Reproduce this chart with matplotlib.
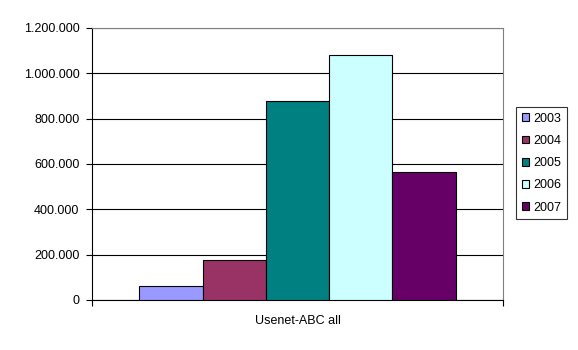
import matplotlib
matplotlib.use("Agg")
import matplotlib.pyplot as plt
from matplotlib.ticker import FuncFormatter, MultipleLocator

years = ['2003', '2004', '2005', '2006', '2007']
values = [60000, 175000, 878000, 1079000, 563000]
colors = ['#9999FF', '#993366', '#008080', '#CCFFFF', '#660066']
category = 'Usenet-ABC all'

plt.rcParams['font.family'] = ['Liberation Sans', 'DejaVu Sans']
plt.rcParams['font.size'] = 9

fig = plt.figure(figsize=(5.78, 3.5), dpi=100)
ax = fig.add_axes([92 / 578, 1 - 300 / 350, 411 / 578, 272 / 350])

width = 0.77 / len(years)
for i, (yr, v, c) in enumerate(zip(years, values, colors)):
    ax.bar((i - (len(years) - 1) / 2) * width, v, width, color=c,
           edgecolor='black', linewidth=0.8, label=yr, zorder=3)

ax.set_xlim(-0.5, 0.5)
ax.set_ylim(0, 1200000)
ax.yaxis.set_major_locator(MultipleLocator(200000))
ax.yaxis.set_major_formatter(FuncFormatter(lambda v, p: f'{int(v):,}'.replace(',', '.')))
ax.grid(True, axis='y', color='black', linewidth=0.8, zorder=0)

ax.set_xticks([-0.5, 0.5])
ax.set_xticklabels(['', ''])
ax.tick_params(axis='x', length=4, width=0.8, color='black')
ax.tick_params(axis='y', length=4, width=0.8, color='black', pad=5)
ax.text(0.5, -0.055, category, transform=ax.transAxes, ha='center', va='top')

for s in ['top', 'right']:
    ax.spines[s].set_color('#808080')
    ax.spines[s].set_linewidth(0.8)
for s in ['left', 'bottom']:
    ax.spines[s].set_color('black')
    ax.spines[s].set_linewidth(0.8)

leg = fig.legend(loc='upper left', bbox_to_anchor=(516 / 578, 1 - 107 / 350),
                 frameon=True, fancybox=False, edgecolor='black',
                 handlelength=0.6, handleheight=0.6, handletextpad=0.35,
                 labelspacing=0.82, borderpad=0.45, borderaxespad=0)
leg.get_frame().set_linewidth(0.8)

fig.savefig('out.png', dpi=100)
